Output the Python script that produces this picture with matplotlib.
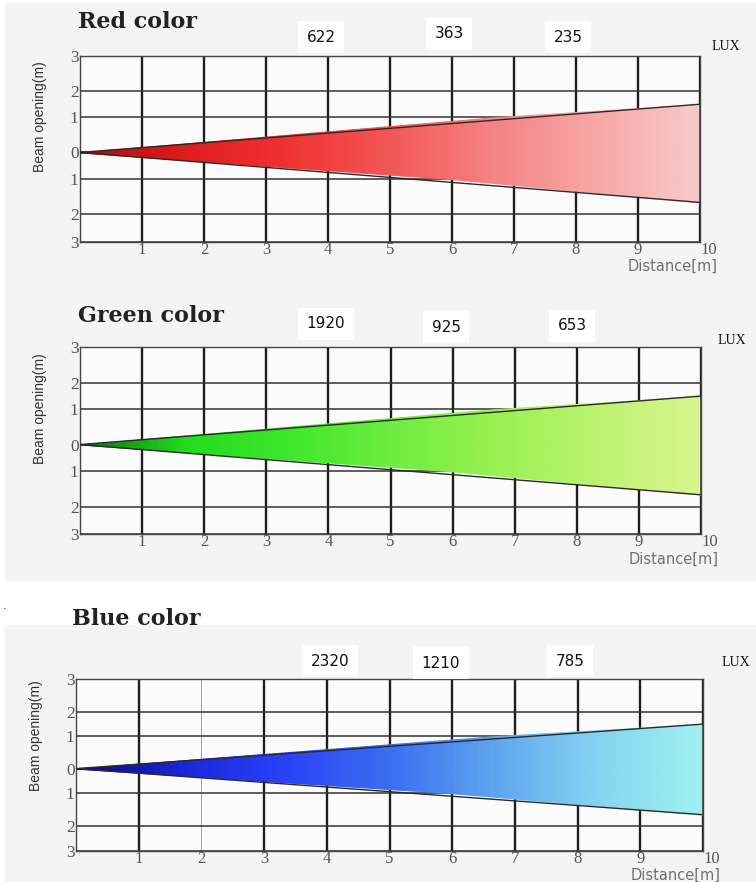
import numpy as np
import matplotlib
matplotlib.use("Agg")
import matplotlib.pyplot as plt
from matplotlib.colors import LinearSegmentedColormap
from matplotlib.patches import Rectangle

# beam shape (same for all three colours)
distance = [0, 10]
beam_upper = [0, 1.5]
beam_lower = [0, -1.66]

# original grid is not evenly spaced: label value -> where its line sits
y_ticks = [-3, -2, -1, 0, 1, 2, 3]
y_tick_pos = [-3, -2.12, -0.98, -0.12, 1.01, 1.86, 3]
x_ticks = [1, 2, 3, 4, 5, 6, 7, 8, 9, 10]

titles = ["Red color", "Green color", "Blue color"]
lux_red = [622, 363, 235]
lux_green = [1920, 925, 653]
lux_blue = [2320, 1210, 785]

grad_red = ["#a80c0c", "#e01c1c", "#f03232", "#f25656", "#f58282", "#f7a6a6", "#f8c9c9"]
grad_green = ["#0a7010", "#22dc1e", "#3ee62c", "#6eec40", "#98f050", "#bcf270", "#d8f48e"]
grad_blue = ["#08087a", "#1a26dc", "#2a42f6", "#3a6ef0", "#5ea4ee", "#86d2f0", "#a0f0f0"]

W, H = 756, 882
# axes boxes in pixels: left, top, right, bottom
boxes = [(80, 55.7, 700, 241.7), (80, 347.3, 701, 534.3), (76, 679.3, 703, 851)]
title_xy = [(78, 22), (78, 316), (72, 619)]
lux_xy = [[(321, 37), (449, 34), (568, 37)],
          [(326, 324), (446, 327), (572, 326)],
          [(330, 661), (441, 663), (570, 661)]]
luxlabel_xy = [(726, 47), (732, 340), (736, 663)]


def fwd(y):
    return np.interp(y, y_ticks, y_tick_pos)


def inv(y):
    return np.interp(y, y_tick_pos, y_ticks)


fig = plt.figure(figsize=(W / 100, H / 100), dpi=100, facecolor="white")
fig.patches.append(Rectangle((5 / W, 1 - 580 / H), 1, (580 - 3) / H,
                             transform=fig.transFigure, color="#f4f4f4", zorder=-10))
fig.patches.append(Rectangle((5 / W, 0), 1, 1 - 625 / H,
                             transform=fig.transFigure, color="#f4f4f4", zorder=-10))
fig.text(5 / W, 1 - 606 / H, ".", fontsize=8, color="black", ha="center", va="center")

data = [(lux_red, grad_red), (lux_green, grad_green), (lux_blue, grad_blue)]

for k, (lux, grad) in enumerate(data):
    l, t, r, b = boxes[k]
    ax = fig.add_axes([l / W, 1 - b / H, (r - l) / W, (b - t) / H])
    ax.set_facecolor("#fbfbfb")
    ax.set_yscale("function", functions=(fwd, inv))
    ax.set_xlim(0, 10)
    ax.set_ylim(-3, 3)

    ax.set_xticks(x_ticks)
    ax.set_xticklabels([str(v) for v in x_ticks], fontsize=12, color="#555555",
                       family="Liberation Serif")
    ax.get_xticklabels()[-1].set_horizontalalignment("left")
    ax.set_yticks(y_ticks)
    ax.set_yticklabels([str(abs(v)) for v in y_ticks], fontsize=12.5, color="#555555",
                       family="Liberation Serif")
    ax.yaxis.set_minor_locator(matplotlib.ticker.NullLocator())
    ax.tick_params(length=0, pad=0)
    ax.tick_params(axis="y", pad=1)

    ax.grid(axis="x", color="#1e1e1e", lw=1.7, zorder=1)
    ax.grid(axis="y", color="#333333", lw=1.1, zorder=1)
    if k == 2:
        ax.get_xgridlines()[1].set(color="#a0a0a0", lw=0.7)
    for s in ax.spines.values():
        s.set_color("#444444")
        s.set_linewidth(1.0)

    # gradient beam
    cmap = LinearSegmentedColormap.from_list("beam%d" % k, grad)
    xs = np.linspace(distance[0], distance[1], 160)
    up = np.interp(xs, distance, beam_upper)
    lo = np.interp(xs, distance, beam_lower)
    for i in range(len(xs) - 1):
        c = cmap(i / (len(xs) - 2))
        ax.fill_between(xs[i:i + 2], lo[i:i + 2], up[i:i + 2], color=c, lw=0.8,
                        edgecolor=c, zorder=2)
    ax.plot(distance + distance[::-1] + [distance[0]],
            beam_upper + beam_lower[::-1] + [beam_upper[0]],
            color="#2a2a2a", lw=1.0, zorder=3)

    ax.set_ylabel("Beam opening(m)", fontsize=10, color="#333333",
                  family="Liberation Sans")
    ax.yaxis.set_label_coords(-0.053, 0.67)
    ax.annotate("Distance[m]", xy=(1.0, 0), xycoords="axes fraction",
                xytext=(18, -17), textcoords="offset pixels", ha="right", va="top",
                fontsize=10.5, color="#707070", family="DejaVu Sans")

    tx, ty = title_xy[k]
    fig.text(tx / W, 1 - ty / H, titles[k], fontsize=16, fontweight="bold",
             family="DejaVu Serif", color="#222222", ha="left", va="center")
    for v, (px, py) in zip(lux, lux_xy[k]):
        fig.text(px / W, 1 - py / H, str(v), fontsize=11, color="#111111",
                 family="DejaVu Sans", ha="center", va="center",
                 bbox=dict(facecolor="white", edgecolor="none", pad=6))
    lx, ly = luxlabel_xy[k]
    fig.text(lx / W, 1 - ly / H, "LUX", fontsize=10, color="#111111",
             family="Liberation Serif", ha="center", va="center")

fig.savefig("out.png", dpi=100, facecolor=fig.get_facecolor())
